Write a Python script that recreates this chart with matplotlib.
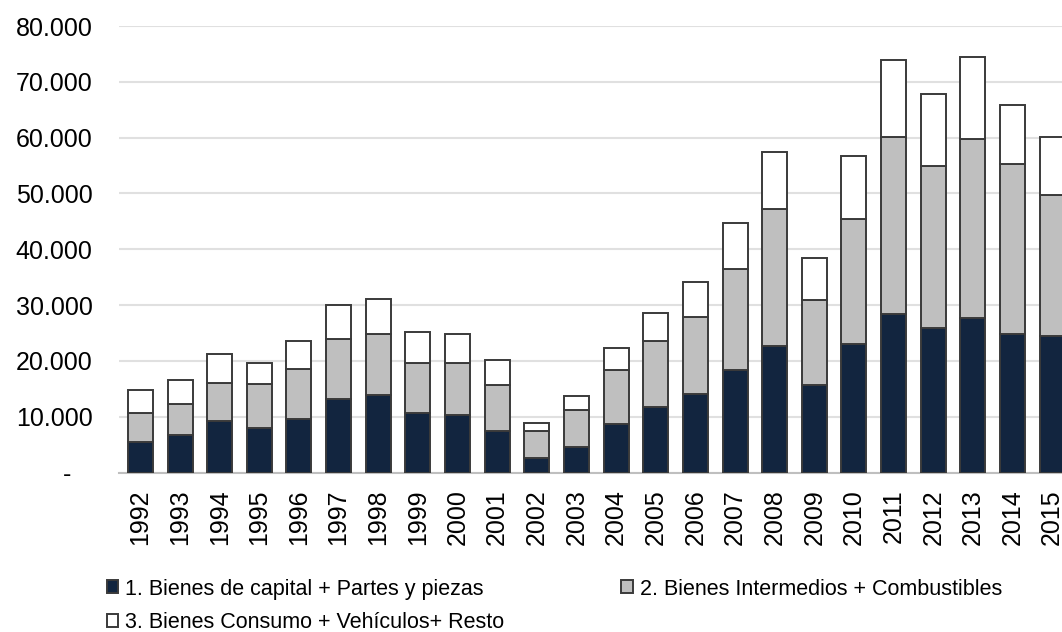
import matplotlib.pyplot as plt
import numpy as np

plt.rcParams['font.family'] = ['Liberation Sans', 'DejaVu Sans']

years = [str(y) for y in range(1992, 2016)]

# miles de US$ (en miles)
capital = [5.5, 6.7, 9.2, 8.0, 9.5, 13.2, 13.9, 10.7, 10.3, 7.4, 2.6, 4.6,
           8.7, 11.7, 14.1, 18.4, 22.6, 15.7, 23.0, 28.4, 25.9, 27.6, 24.9, 24.4]
intermedios_tot = [10.7, 12.2, 16.1, 15.8, 18.5, 23.9, 24.8, 19.7, 19.6, 15.6, 7.4, 11.2,
                   18.4, 23.5, 27.9, 36.4, 47.2, 30.9, 45.4, 60.1, 54.9, 59.7, 55.2, 49.8]
total = [14.7, 16.5, 21.3, 19.7, 23.5, 30.1, 31.0, 25.1, 24.9, 20.1, 8.8, 13.7,
         22.3, 28.5, 34.1, 44.7, 57.4, 38.4, 56.7, 73.9, 67.8, 74.5, 65.8, 60.1]

intermedios = [b - a for a, b in zip(capital, intermedios_tot)]
consumo = [c - b for b, c in zip(intermedios_tot, total)]

labels = ['1. Bienes de capital + Partes y piezas',
          '2. Bienes Intermedios + Combustibles',
          '3. Bienes Consumo + Vehículos+ Resto']
colors = ['#12253f', '#bfbfbf', '#ffffff']

fig = plt.figure(figsize=(10.62, 6.32), dpi=100)
ax = fig.add_axes([119 / 1062, 1 - 472.5 / 632, (1072 - 119) / 1062, (472.5 - 26) / 632])

x = np.arange(len(years))
w = 0.63
b1 = ax.bar(x, capital, w, color=colors[0], edgecolor='#3a3a3a', linewidth=1.4, label=labels[0], zorder=3)
b2 = ax.bar(x, intermedios, w, bottom=capital, color=colors[1], edgecolor='#3a3a3a', linewidth=1.4,
            label=labels[1], zorder=3)
b3 = ax.bar(x, consumo, w, bottom=intermedios_tot, color=colors[2], edgecolor='#3a3a3a', linewidth=1.4,
            label=labels[2], zorder=3)

ax.set_xlim(-0.54, len(years) - 0.5)
ax.set_ylim(0, 80)
yt = np.arange(0, 90, 10)
ax.set_yticks(yt)
ax.set_yticklabels(['-   '] + ['{:d}.000'.format(int(v)) for v in yt[1:]])
ax.set_xticks(x)
ax.set_xticklabels(years, rotation=90)
ax.tick_params(axis='y', length=0, pad=19, labelsize=18)
ax.tick_params(axis='x', length=0, pad=12, labelsize=18)
ax.yaxis.grid(True, color='#e0e0e0', linewidth=1.5, zorder=0)
ax.set_axisbelow(True)
for s in ['top', 'right', 'left']:
    ax.spines[s].set_visible(False)
ax.spines['bottom'].set_color('#bfbfbf')
ax.spines['bottom'].set_linewidth(1.5)

# fila 1: series 1 y 2, fila 2: serie 3
fig.legend([b1, b3, b2], [labels[0], labels[2], labels[1]],
           loc='center left', bbox_to_anchor=(98 / 1062, 1 - 606 / 632), ncol=2,
           frameon=False, fontsize=15.5, handlelength=0.55, handleheight=0.55,
           handletextpad=0.3, columnspacing=5.45, labelspacing=0.6, borderaxespad=0)

fig.savefig('out.png', dpi=100)
